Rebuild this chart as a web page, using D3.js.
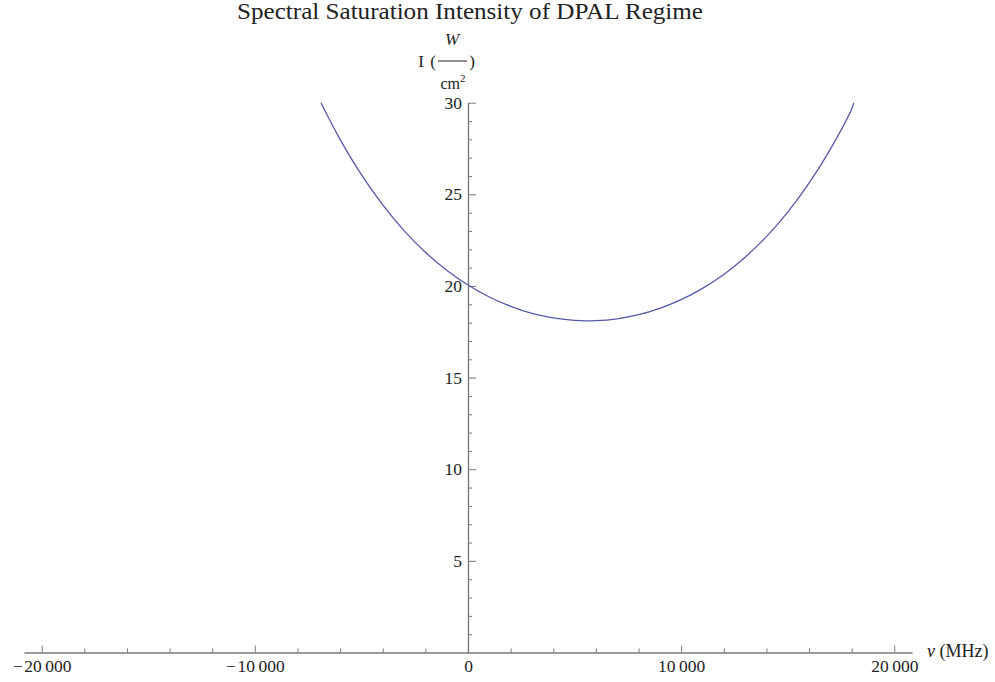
<!DOCTYPE html>
<html>
<head>
<meta charset="utf-8">
<script src="https://cdn.jsdelivr.net/npm/d3@7"></script>
<style>
  html, body { margin: 0; padding: 0; background: #fff; }
  svg text { font-family: 'Liberation Serif', 'Times New Roman', serif; fill: #222; }
</style>
</head>
<body>
<div id="chart"></div>
<script>
// frequency detuning (MHz) and saturation intensity (W/cm^2)
const freq = [-6900, -6000, -5000, -4000, -3000, -2000, -1000, 0, 1000, 2000, 3000, 4000, 5000,
  6000, 7000, 8000, 9000, 10000, 11000, 12000, 13000, 14000, 15000, 16000, 17000, 18000, 18100];
const intensity = [30.0, 28.0, 26.07, 24.42, 23.02, 21.84, 20.86, 20.05, 19.4, 18.89, 18.51, 18.26, 18.12,
  18.11, 18.21, 18.43, 18.78, 19.25, 19.87, 20.63, 21.57, 22.69, 24.03, 25.61, 27.47, 29.66, 30.0];

const xMajor = [-20000, -10000, 0, 10000, 20000];
const xMinor = d3.range(-20000, 20001, 2000);
const yMajor = [5, 10, 15, 20, 25, 30];
const yMinor = d3.range(1, 31, 1);

const width = 995;
const height = 682;

const svg = d3.select('#chart')
  .append('svg')
  .attr('width', width)
  .attr('height', height);

const x = d3.scaleLinear().domain([-20830, 20830]).range([24, 912]);
const y = d3.scaleLinear().domain([0, 30]).range([652.5, 102.7]);

const axisColor = '#7a7a7a';

function styleAxis(g) {
  g.selectAll('.domain').attr('stroke', axisColor).attr('stroke-width', 1.2);
  g.selectAll('.tick line').attr('stroke', axisColor);
  g.selectAll('.tick text')
    .attr('fill', '#222')
    .attr('font-size', '17.5px')
    .attr('font-family', "'Liberation Serif', serif");
}

function fmt(d) {
  // mathematica style: minus sign and a small gap in thousands
  const s = Math.abs(d) >= 10000 ? `${Math.floor(Math.abs(d) / 1000)}\u2009000` : `${Math.abs(d)}`;
  return (d < 0 ? '\u2212\u200a' : '') + s;
}

// x axis: minor ticks
svg.append('g')
  .attr('transform', `translate(0,${y(0)})`)
  .call(d3.axisBottom(x).tickValues(xMinor.filter((d) => d !== 0 && !xMajor.includes(d)))
    .tickSizeInner(-4).tickSizeOuter(0).tickFormat(''))
  .call(styleAxis);

// x axis: major ticks + labels
svg.append('g')
  .attr('transform', `translate(0,${y(0)})`)
  .call(d3.axisBottom(x).tickValues(xMajor).tickSizeInner(-7).tickSizeOuter(0)
    .tickPadding(7).tickFormat(fmt))
  .call(styleAxis)
  .call((g) => g.selectAll('.tick').filter((d) => d === 0).select('line').remove());

// y axis: minor ticks
svg.append('g')
  .attr('transform', `translate(${x(0)},0)`)
  .call(d3.axisLeft(y).tickValues(yMinor.filter((d) => !yMajor.includes(d)))
    .tickSizeInner(-4).tickSizeOuter(0).tickFormat(''))
  .call(styleAxis);

// y axis: major ticks + labels
svg.append('g')
  .attr('transform', `translate(${x(0)},0)`)
  .call(d3.axisLeft(y).tickValues(yMajor).tickSizeInner(-8).tickSizeOuter(0)
    .tickPadding(6).tickFormat((d) => d))
  .call(styleAxis);

// curve
const line = d3.line()
  .x((d, i) => x(freq[i]))
  .y((d) => y(d))
  .curve(d3.curveCatmullRom.alpha(0.5));

svg.append('path')
  .datum(intensity)
  .attr('fill', 'none')
  .attr('stroke', '#5658a8')
  .attr('stroke-width', 1.3)
  .attr('d', line);

// title
svg.append('text')
  .attr('x', 470)
  .attr('y', 19)
  .attr('text-anchor', 'middle')
  .attr('font-size', '23px')
  .attr('textLength', 466)
  .attr('lengthAdjust', 'spacingAndGlyphs')
  .text('Spectral Saturation Intensity of DPAL Regime');

// y label: I (W / cm^2)
const yl = svg.append('g').attr('font-size', '17px');
yl.append('text').attr('x', 421).attr('y', 67).attr('text-anchor', 'middle').text('I');
yl.append('text').attr('x', 433).attr('y', 67).attr('text-anchor', 'middle').text('(');
yl.append('line')
  .attr('x1', 438).attr('x2', 467).attr('y1', 61).attr('y2', 61)
  .attr('stroke', '#222').attr('stroke-width', 1);
yl.append('text').attr('x', 472).attr('y', 67).attr('text-anchor', 'middle').text(')');
yl.append('text').attr('x', 452).attr('y', 45).attr('text-anchor', 'middle')
  .attr('font-style', 'italic').text('W');
const cm = yl.append('text').attr('x', 453).attr('y', 89).attr('text-anchor', 'middle')
  .attr('font-size', '16px');
cm.append('tspan').text('cm');
cm.append('tspan').attr('font-size', '11px').attr('dy', -7).text('2');

// x label
const xl = svg.append('text').attr('x', 927).attr('y', 657).attr('font-size', '18px');
xl.append('tspan').attr('font-style', 'italic').text('\u03bd');
xl.append('tspan').text(' (MHz)');
</script>
</body>
</html>
